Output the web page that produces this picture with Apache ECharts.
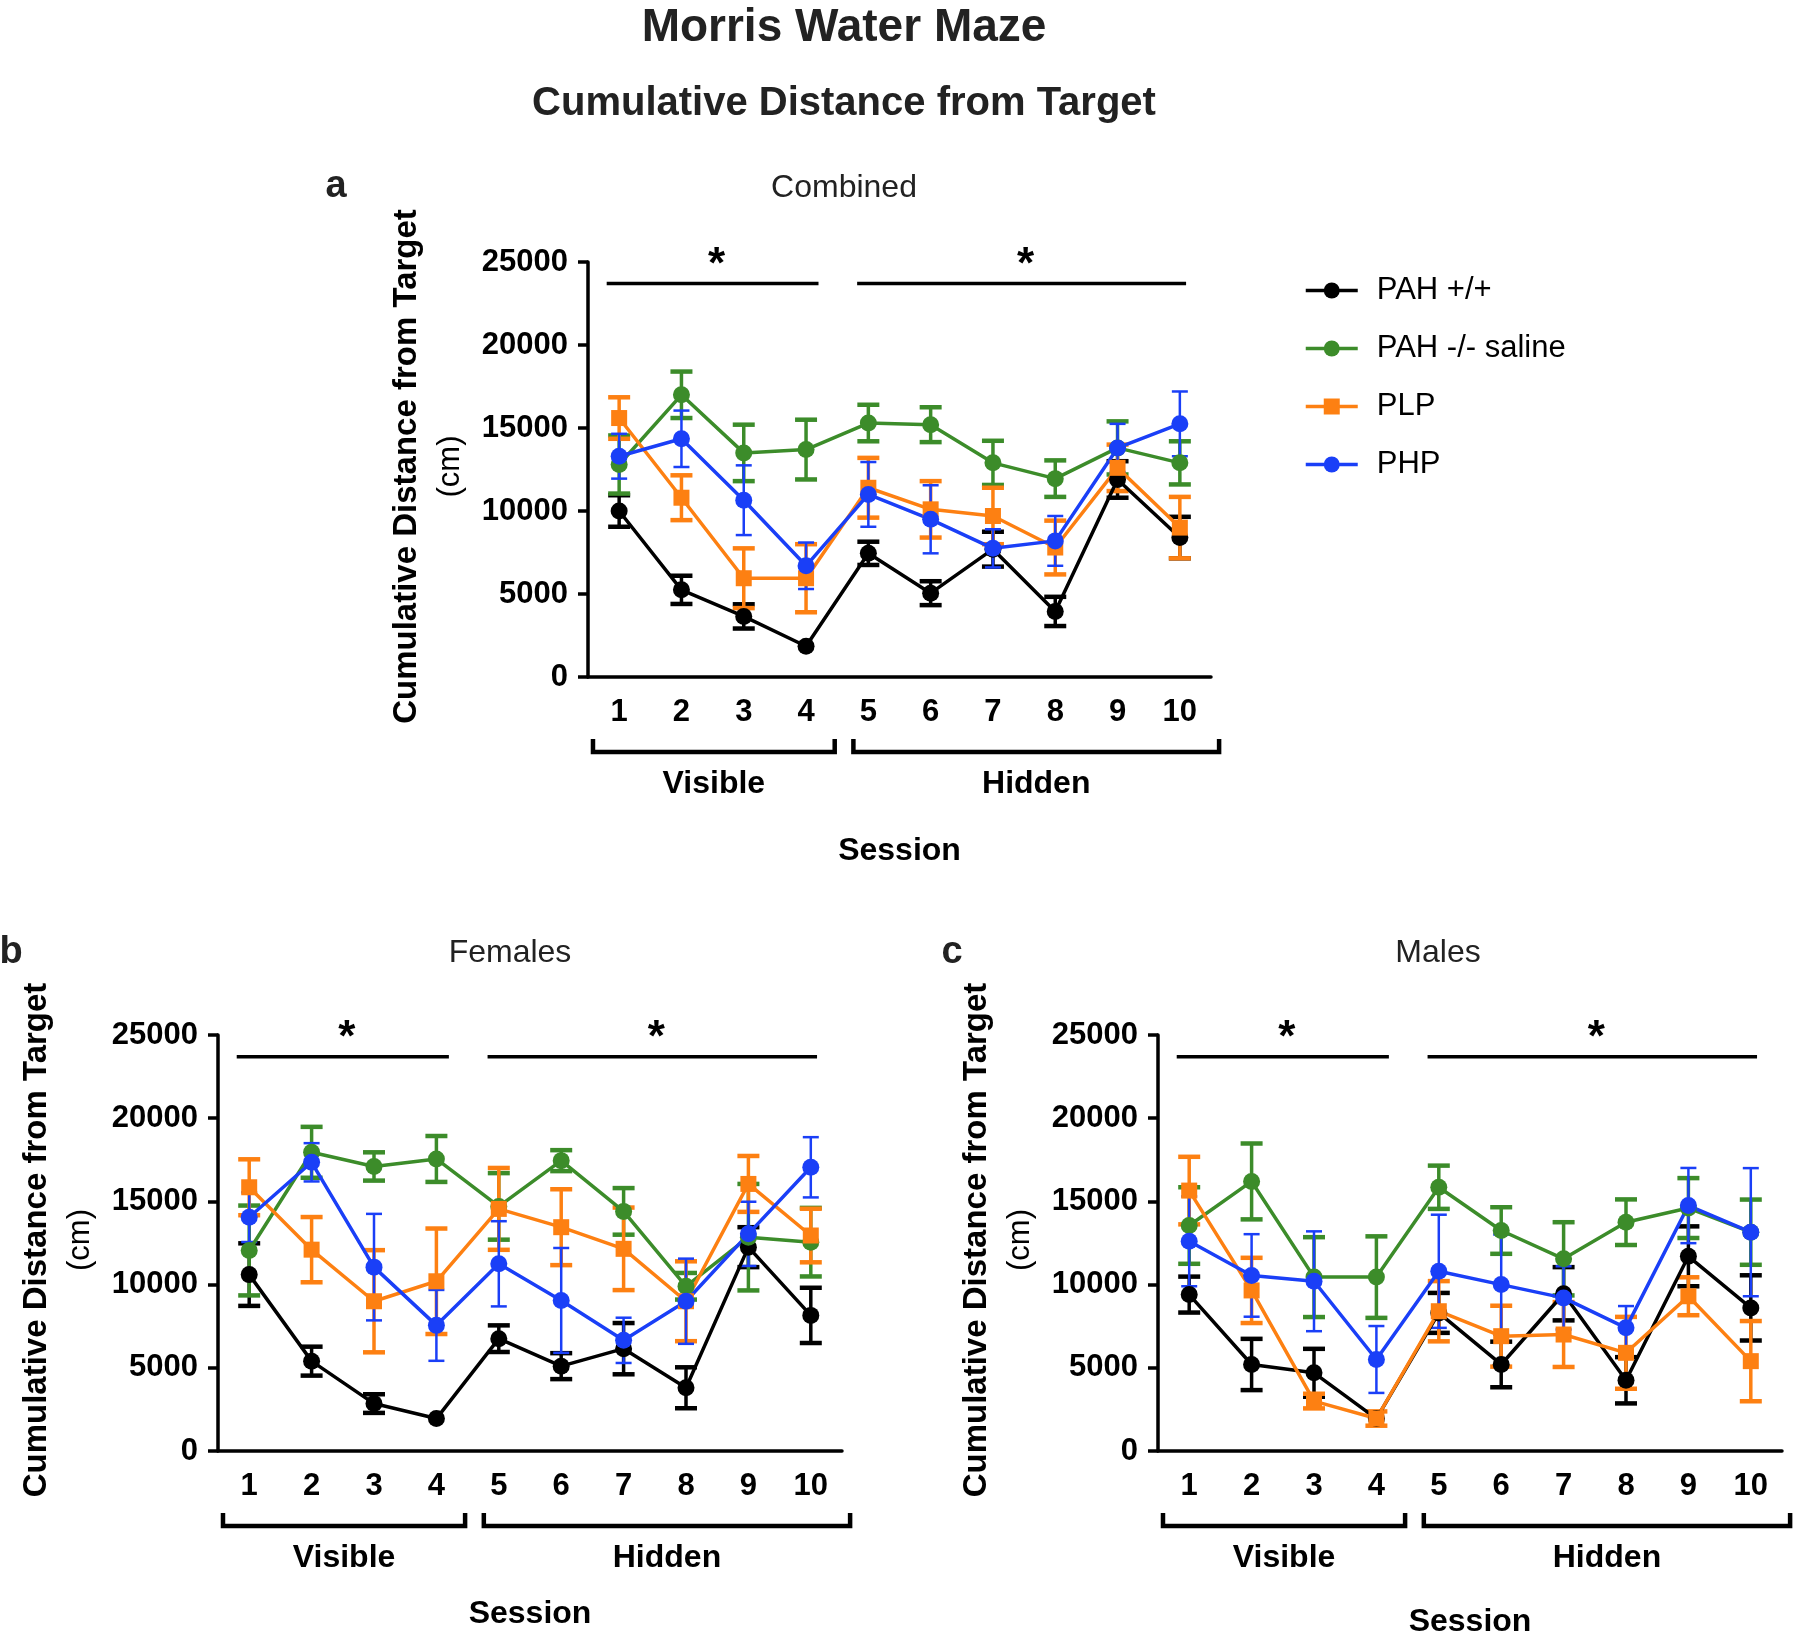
<!DOCTYPE html>
<html lang="en">
<head>
    <meta charset="utf-8">
    <title>Morris Water Maze</title>
    <script src="https://cdn.jsdelivr.net/npm/echarts@6/dist/echarts.min.js"></script>
</head>
<body style="margin:0;background:#ffffff;">

<div id="main" style="width:1800px;height:1645px;"></div>

<script type="text/javascript">

    // ---- data ----
    var sessions = ['1', '2', '3', '4', '5', '6', '7', '8', '9', '10'];
    var groups = ['PAH +/+', 'PAH -/- saline', 'PLP', 'PHP'];
    var phases = ['Visible', 'Hidden'];
    var phaseRange = [[0, 3], [4, 9]];   // session index from / to
    var sigLevel = 23700;                // height of the "*" bars

    // combined, order follows groups
    var combinedMean = [
        [10000, 5250, 3650, 1850, 7450, 5050, 7700, 3950, 11900, 8400],
        [12800, 17000, 13500, 13700, 15300, 15200, 12900, 11950, 13800, 12900],
        [15600, 10800, 5950, 5950, 11400, 10100, 9700, 7800, 12600, 9000],
        [13300, 14350, 10650, 6700, 11000, 9500, 7750, 8200, 13800, 15250]
    ];
    var combinedErr = [
        [950, 850, 730, 0, 700, 720, 1050, 880, 1100, 1250],
        [1750, 1400, 1700, 1800, 1100, 1050, 1330, 1100, 1600, 1300],
        [1250, 1350, 1800, 2050, 1800, 1700, 1700, 1620, 1400, 1850],
        [1350, 1700, 2100, 1400, 1950, 2050, 1150, 1500, 1450, 1950]
    ];

    var femalesMean = [
        [10600, 5400, 2850, 1950, 6750, 5100, 6150, 3800, 12250, 8150],
        [12050, 17950, 17100, 17550, 14700, 17450, 14400, 9900, 12850, 12550],
        [15850, 12100, 9000, 10200, 14550, 13450, 12150, 9000, 16050, 12950],
        [14050, 17350, 11050, 7550, 11250, 9050, 6650, 9000, 13050, 17050]
    ];
    var femalesErr = [
        [1880, 870, 560, 0, 800, 780, 1540, 1230, 1200, 1660],
        [2700, 1530, 850, 1380, 2000, 630, 1400, 800, 3200, 2060],
        [1680, 1960, 3070, 3170, 2460, 2280, 2480, 2400, 1680, 1610],
        [1490, 1150, 3200, 2130, 2560, 3150, 1360, 2560, 1930, 1810]
    ];

    var malesMean = [
        [9400, 5200, 4700, 1950, 8300, 5200, 9450, 4250, 11700, 8600],
        [13550, 16200, 10450, 10450, 15850, 13250, 11550, 13750, 14600, 13150],
        [15650, 9650, 3000, 1950, 8400, 6900, 7000, 5900, 9300, 5400],
        [12600, 10550, 10200, 5500, 10800, 10000, 9200, 7400, 14750, 13150]
    ];
    var malesErr = [
        [1080, 1540, 1440, 0, 1200, 1370, 1600, 1390, 1800, 1960],
        [2300, 2280, 2400, 2450, 1300, 1400, 2200, 1370, 1800, 1960],
        [2030, 1960, 440, 430, 1810, 1830, 1950, 2160, 1140, 2410],
        [2700, 2480, 3000, 2010, 3400, 3010, 1900, 1310, 2260, 3850]
    ];

    // ---- styling ----
    var FONT = '"Liberation Sans", Arial, Helvetica, sans-serif';
    var colors = ['#000000', '#3c8c2a', '#fd8012', '#1a3ff7'];
    var capHalf = [11, 11, 11, 8];
    var capWidth = [4.5, 4.5, 4.5, 2.5];
    var stemWidth = [3.5, 3.5, 3.5, 2.5];

    var panels = [
        {letter: 'a', title: 'Combined', mean: combinedMean, err: combinedErr,
            grid: {left: 588, top: 262, width: 623, height: 415}, sessionGap: 174,
            letterPos: [336, 187], titlePos: [844, 188]},
        {letter: 'b', title: 'Females', mean: femalesMean, err: femalesErr,
            grid: {left: 218, top: 1035, width: 624, height: 416}, sessionGap: 163,
            letterPos: [11, 953], titlePos: [510, 953]},
        {letter: 'c', title: 'Males', mean: malesMean, err: malesErr,
            grid: {left: 1158, top: 1035, width: 624, height: 416}, sessionGap: 171,
            letterPos: [952, 953], titlePos: [1438, 953]}
    ];

    // padding of the brackets / star bars around the first and last session (in steps)
    var bracketPad = [[0.42, 0.46], [0.24, 0.63]];
    var sigPad = [[0.2, 0.2], [0.18, 0.1]];

    var myChart = echarts.init(document.getElementById('main'));

    function errorBarRender(k) {
        return function (params, api) {
            if (api.value(1) === api.value(2)) {
                return null;   // error smaller than the symbol: not drawn
            }
            var x = api.coord([api.value(0), api.value(1)])[0];
            var lo = api.coord([api.value(0), api.value(1)])[1];
            var hi = api.coord([api.value(0), api.value(2)])[1];
            var st = {stroke: colors[k], lineWidth: capWidth[k]};
            return {
                type: 'group',
                children: [
                    {type: 'line', shape: {x1: x, y1: lo, x2: x, y2: hi}, style: {stroke: colors[k], lineWidth: stemWidth[k]}},
                    {type: 'line', shape: {x1: x - capHalf[k], y1: lo, x2: x + capHalf[k], y2: lo}, style: st},
                    {type: 'line', shape: {x1: x - capHalf[k], y1: hi, x2: x + capHalf[k], y2: hi}, style: st}
                ]
            };
        };
    }

    function phaseRender(params, api) {
        var j = api.value(2);
        var step = api.size([1, 0])[0];
        var axisY = api.coord([0, 0])[1];
        var sigY = api.coord([0, sigLevel])[1];
        var x0 = api.coord([api.value(0), 0])[0];
        var x1 = api.coord([api.value(1), 0])[0];
        var bl = x0 - step * bracketPad[j][0], br = x1 + step * bracketPad[j][1];
        var sl = x0 - step * sigPad[j][0], sr = x1 + step * sigPad[j][1];
        var by = axisY + 75;
        return {
            type: 'group',
            children: [
                {type: 'polyline', shape: {points: [[bl, by - 13], [bl, by], [br, by], [br, by - 13]]},
                    style: {stroke: '#000', lineWidth: 4.5, fill: 'none'}},
                {type: 'text', style: {text: phases[j], x: (bl + br) / 2, y: by + 32, fill: '#000',
                        font: 'bold 32px ' + FONT, align: 'center', verticalAlign: 'middle'}},
                {type: 'line', shape: {x1: sl, y1: sigY, x2: sr, y2: sigY}, style: {stroke: '#000', lineWidth: 3.5}},
                {type: 'text', style: {text: '*', x: (sl + sr) / 2 + 4, y: sigY - 18, fill: '#000',
                        font: 'bold 44px ' + FONT, align: 'center', verticalAlign: 'middle'}}
            ]
        };
    }

    var grids = [], xAxes = [], yAxes = [], series = [];
    var graphics = [
        {type: 'text', x: 844, y: 28, style: {text: 'Morris Water Maze', font: 'bold 46px ' + FONT, fill: '#222', align: 'center', verticalAlign: 'middle'}},
        {type: 'text', x: 844, y: 104, style: {text: 'Cumulative Distance from Target', font: 'bold 40px ' + FONT, fill: '#222', align: 'center', verticalAlign: 'middle'}}
    ];

    panels.forEach(function (p, gi) {
        var g = p.grid;
        grids.push({left: g.left, top: g.top, width: g.width, height: g.height, containLabel: false});
        xAxes.push({
            gridIndex: gi, type: 'category', data: sessions, boundaryGap: true,
            axisLine: {lineStyle: {color: '#000', width: 3.5}},
            axisTick: {alignWithLabel: true, length: 12, lineStyle: {color: '#000', width: 3.5}},
            axisLabel: {color: '#000', fontSize: 31, fontWeight: 'bold', fontFamily: FONT, margin: 20},
            splitLine: {show: false}
        });
        yAxes.push({
            gridIndex: gi, type: 'value', min: 0, max: 25000, interval: 5000,
            axisLine: {show: true, lineStyle: {color: '#000', width: 3.5}},
            axisTick: {show: true, length: 10, lineStyle: {color: '#000', width: 3.5}},
            axisLabel: {color: '#000', fontSize: 31, fontWeight: 'bold', fontFamily: FONT, margin: 20,
                formatter: function (v) { return String(v); }},
            splitLine: {show: false}
        });

        for (var k = 0; k < groups.length; k++) {
            var bars = sessions.map(function (s, i) {
                return [i, p.mean[k][i] - p.err[k][i], p.mean[k][i] + p.err[k][i]];
            });
            series.push({
                type: 'custom', name: 'err-' + gi + '-' + k, xAxisIndex: gi, yAxisIndex: gi,
                renderItem: errorBarRender(k), data: bars, silent: true
            });
            series.push({
                type: 'line', name: groups[k], xAxisIndex: gi, yAxisIndex: gi,
                data: p.mean[k],
                symbol: k === 2 ? 'rect' : 'circle', symbolSize: k === 2 ? 16 : 17,
                itemStyle: {color: colors[k]},
                lineStyle: {color: colors[k], width: 3.5},
                emphasis: {disabled: true}
            });
        }
        series.push({
            type: 'custom', name: 'phase-' + gi, xAxisIndex: gi, yAxisIndex: gi, silent: true,
            renderItem: phaseRender,
            data: phaseRange.map(function (r, j) { return [r[0], r[1], j]; })
        });

        var cy = g.top + g.height / 2 - 3;
        graphics.push(
            {type: 'text', x: p.letterPos[0], y: p.letterPos[1], style: {text: p.letter, font: 'bold 38px ' + FONT, fill: '#222', align: 'center', verticalAlign: 'middle'}},
            {type: 'text', x: p.titlePos[0], y: p.titlePos[1], style: {text: p.title, font: '32px ' + FONT, fill: '#222', align: 'center', verticalAlign: 'middle'}},
            {type: 'text', x: g.left - 181, y: cy, rotation: Math.PI / 2, style: {text: 'Cumulative Distance from Target', font: 'bold 33px ' + FONT, fill: '#000', align: 'center', verticalAlign: 'middle'}},
            {type: 'text', x: g.left - 138, y: cy, rotation: Math.PI / 2, style: {text: '(cm)', font: '31px ' + FONT, fill: '#000', align: 'center', verticalAlign: 'middle'}},
            {type: 'text', x: g.left + g.width / 2, y: g.top + g.height + p.sessionGap, style: {text: 'Session', font: 'bold 32px ' + FONT, fill: '#000', align: 'center', verticalAlign: 'middle'}}
        );
    });

    option = {
        backgroundColor: '#ffffff',
        animation: false,
        grid: grids,
        xAxis: xAxes,
        yAxis: yAxes,
        legend: {
            orient: 'vertical', left: 1299, top: 270,
            itemWidth: 52, itemHeight: 20, itemGap: 27,
            selectedMode: false,
            data: groups,
            lineStyle: {width: 3.5},
            textStyle: {color: '#000', fontSize: 31, fontFamily: FONT, padding: [0, 0, 0, 14]}
        },
        graphic: graphics,
        series: series
    };

    myChart.setOption(option);

</script>

</body>
</html>
